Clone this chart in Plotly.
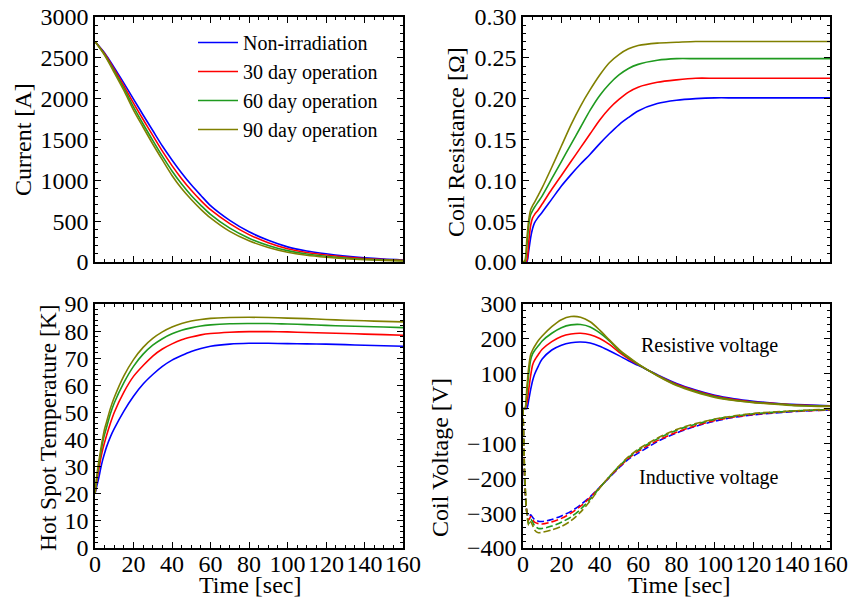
import plotly.graph_objects as go

# ---------------- data ----------------
time_current = [0, 5, 10, 15, 20, 25, 30, 35, 40, 45, 50, 55, 60,
                70, 80, 90, 100, 110, 120, 130, 140, 150, 160]

current_non = [2700, 2560, 2380, 2190, 1995, 1800, 1610, 1420, 1250, 1090, 945, 815, 690,
               510, 370, 265, 185, 135, 100, 72, 50, 35, 25]
current_30 = [2700, 2549, 2358, 2157, 1945, 1745, 1550, 1357, 1180, 1020, 878, 752, 640,
              470, 335, 236, 162, 117, 86, 61, 43, 31, 22]
current_60 = [2700, 2539, 2337, 2125, 1900, 1690, 1490, 1296, 1115, 955, 815, 694, 583,
              414, 292, 203, 139, 97, 70, 49, 34, 24, 17]
current_90 = [2700, 2530, 2320, 2100, 1860, 1650, 1445, 1250, 1060, 900, 765, 645, 540,
              375, 260, 178, 120, 82, 58, 40, 28, 20, 14]

time_fine = [0, 1, 2, 3, 4, 5, 6, 8, 10, 15, 20, 25, 30, 35, 40, 45, 50, 55, 60,
             70, 80, 90, 100, 110, 120, 130, 140, 150, 160]

resist_non = [0, 0, 0, 0.014, 0.030, 0.041, 0.048, 0.055, 0.061, 0.077, 0.093, 0.107, 0.120,
              0.132, 0.145, 0.157, 0.168, 0.177, 0.185, 0.194, 0.198, 0.200, 0.201, 0.201,
              0.201, 0.201, 0.201, 0.201, 0.201]
resist_30 = [0, 0, 0.002, 0.025, 0.045, 0.054, 0.058, 0.064, 0.071, 0.089, 0.106, 0.123, 0.140,
             0.157, 0.174, 0.188, 0.199, 0.208, 0.214, 0.220, 0.223, 0.225, 0.225, 0.225,
             0.225, 0.225, 0.225, 0.225, 0.225]
resist_60 = [0, 0, 0.020, 0.045, 0.058, 0.063, 0.067, 0.074, 0.081, 0.102, 0.123, 0.144, 0.165,
             0.186, 0.204, 0.218, 0.229, 0.237, 0.242, 0.247, 0.249, 0.249, 0.249, 0.249,
             0.249, 0.249, 0.249, 0.249, 0.249]
resist_90 = [0, 0.002, 0.028, 0.052, 0.064, 0.069, 0.073, 0.082, 0.091, 0.116, 0.142, 0.168, 0.191,
             0.211, 0.229, 0.244, 0.254, 0.261, 0.265, 0.268, 0.269, 0.270, 0.270, 0.270,
             0.270, 0.270, 0.270, 0.270, 0.270]

temp_non = [20, 23, 26, 29.5, 32.5, 35, 37.3, 41, 44, 50.5, 56, 60.5, 64, 67, 69.3, 71, 72.5,
            73.6, 74.4, 75.2, 75.5, 75.5, 75.4, 75.3, 75.2, 75.0, 74.8, 74.6, 74.4]
temp_30 = [20, 25, 29, 33, 36.3, 39, 41.5, 46, 50, 57.5, 63.3, 67.3, 70.8, 73.4, 75.3, 76.8, 77.8,
           78.6, 79.1, 79.6, 79.8, 79.8, 79.7, 79.5, 79.3, 79.1, 78.9, 78.7, 78.5]
temp_60 = [20, 26, 31, 35, 39, 42, 44.5, 49.5, 53.5, 61, 67, 71.5, 74.8, 77.2, 79, 80.3, 81.2,
           81.9, 82.3, 82.7, 82.8, 82.8, 82.6, 82.4, 82.1, 81.9, 81.7, 81.5, 81.3]
temp_90 = [20, 27, 32, 36.5, 40.5, 44, 46.5, 51.5, 55.5, 63.5, 69.5, 74, 77.3, 79.7, 81.5, 82.8,
           83.7, 84.3, 84.7, 85.0, 85.1, 85.0, 84.8, 84.6, 84.3, 84.0, 83.8, 83.6, 83.4]

vres_non = [0, 0, 0, 25, 55, 80, 98, 122, 142, 168, 182, 189, 191, 188, 179, 166, 152, 137, 124,
            97, 72, 53, 38, 28, 21, 16, 12, 10, 8]
vres_30 = [0, 0, 15, 55, 95, 125, 138, 155, 170, 192, 207, 214, 216, 212, 201, 184, 162, 143, 126,
           96, 70, 51, 36, 26, 19, 15, 11, 9, 7]
vres_60 = [0, 0, 45, 100, 140, 157, 166, 180, 194, 216, 232, 240, 241, 234, 217, 194, 167, 146, 127,
           95, 68, 49, 34, 24, 18, 14, 10, 8, 6.5]
vres_90 = [0, 0, 60, 120, 155, 168, 178, 195, 208, 235, 255, 264, 262, 249, 225, 197, 170, 148, 128,
           94, 66, 47, 32, 23, 17, 13, 9, 7, 6]

vind_non = [0, -230, -295, -310, -305, -312, -318, -323, -324, -318, -308, -295, -276, -253, -226,
            -198, -170, -145, -128, -95, -70, -51, -36, -25, -18, -13, -9, -6, -4]
vind_30 = [0, -220, -298, -320, -310, -318, -326, -330, -331, -325, -315, -300, -280, -255, -226,
           -197, -168, -143, -123, -92, -68, -49, -34, -24, -17, -12, -8, -6, -4]
vind_60 = [0, -210, -300, -330, -318, -325, -336, -344, -344, -337, -326, -311, -289, -260, -227,
           -196, -166, -140, -119, -87, -62, -45, -31, -22, -15, -11, -7, -5, -3]
vind_90 = [0, -200, -300, -335, -325, -335, -348, -356, -355, -348, -338, -322, -297, -265, -228,
           -195, -165, -138, -117, -85, -60, -43, -30, -21, -14, -10, -7, -4, -2]

series_names = ["Non-irradiation", "30 day operation", "60 day operation", "90 day operation"]
series_colors = ["#0000ff", "#ff0000", "#1f9a1f", "#808000"]

FONT = "Liberation Serif"
W, H = 850, 606

# panel frames in pixels (left, right, top, bottom)
panels = {
    "1": (95, 403, 17, 262),
    "2": (523, 830, 17, 262),
    "3": (95, 403, 304, 548),
    "4": (523, 830, 304, 548),
}

fig = go.Figure()


def add_set(xs, ys_list, axis, dash=None, legend=False):
    for name, color, ys in zip(series_names, series_colors, ys_list):
        fig.add_trace(go.Scatter(
            x=xs, y=ys, mode="lines", name=name,
            line=dict(color=color, width=1.6, shape="spline", smoothing=0.8,
                      dash=dash if dash else "solid"),
            xaxis="x" + ("" if axis == "1" else axis),
            yaxis="y" + ("" if axis == "1" else axis),
            showlegend=legend, legendgroup=name,
        ))


add_set(time_current, [current_non, current_30, current_60, current_90], "1", legend=True)
add_set(time_fine, [resist_non, resist_30, resist_60, resist_90], "2")
add_set(time_fine, [temp_non, temp_30, temp_60, temp_90], "3")
add_set(time_fine, [vres_non, vres_30, vres_60, vres_90], "4")
add_set(time_fine, [vind_non, vind_30, vind_60, vind_90], "4", dash="7px,3px")

tick_font = dict(family=FONT, size=24, color="black")


def xaxis(key, labels):
    l, r, t, b = panels[key]
    return dict(
        domain=[l / W, r / W], range=[0, 160], tick0=0, dtick=20,
        anchor="y" + ("" if key == "1" else key),
        showticklabels=labels, tickfont=tick_font, ticklabelstandoff=-7,
        tickangle=0, automargin=False,
        ticks="inside", ticklen=6, tickwidth=1, tickcolor="black",
        minor=dict(ticks="inside", ticklen=3, dtick=5, tickcolor="black", tickwidth=1),
        showline=True, linecolor="black", linewidth=1.5, mirror="allticks",
        showgrid=False, zeroline=False,
    )


def yaxis(key, rng, dtick, minor, fmt=None):
    l, r, t, b = panels[key]
    d = dict(
        domain=[1 - b / H, 1 - t / H], range=rng, tick0=rng[0], dtick=dtick,
        anchor="x" + ("" if key == "1" else key),
        tickfont=tick_font, automargin=False,
        ticks="inside", ticklen=6, tickwidth=1, tickcolor="black",
        minor=dict(ticks="inside", ticklen=3, dtick=minor, tickcolor="black", tickwidth=1),
        showline=True, linecolor="black", linewidth=1.5, mirror="allticks",
        showgrid=False, zeroline=False,
    )
    if fmt:
        d["tickformat"] = fmt
    return d


annotations = []


def title(text, x, y, angle=0, size=24):
    annotations.append(dict(
        text=text, x=x / W, y=1 - y / H, xref="paper", yref="paper",
        showarrow=False, textangle=angle, xanchor="center", yanchor="middle",
        font=dict(family=FONT, size=size, color="black"),
    ))


title("Current [A]", 23, 140, -90)
title("Coil Resistance [Ω]", 456, 142, -90)
title("Hot Spot Temperature [K]", 48, 428, -90, 23.5)
title("Coil Voltage [V]", 440, 458, -90)
title("Time [sec]", 250, 585)
title("Time [sec]", 679, 585)

for text, tx, vy in [("Resistive voltage", 97, 182), ("Inductive voltage", 97, -199)]:
    annotations.append(dict(
        text=text, x=tx, y=vy, xref="x4", yref="y4", showarrow=False,
        xanchor="center", yanchor="middle",
        font=dict(family=FONT, size=20, color="black"),
    ))

fig.update_layout(
    width=W, height=H,
    margin=dict(l=0, r=0, t=0, b=0, autoexpand=False),
    paper_bgcolor="white", plot_bgcolor="white",
    font=dict(family=FONT, color="black"),
    xaxis=xaxis("1", False), yaxis=yaxis("1", [0, 3000], 500, 100),
    xaxis2=xaxis("2", False), yaxis2=yaxis("2", [0, 0.3], 0.05, 0.01, ".2f"),
    xaxis3=xaxis("3", True), yaxis3=yaxis("3", [0, 90], 10, 2),
    xaxis4=xaxis("4", True), yaxis4=yaxis("4", [-400, 300], 100, 20),
    annotations=annotations,
    legend=dict(
        x=193 / W, y=1 - 23 / H, xanchor="left", yanchor="top",
        bgcolor="rgba(0,0,0,0)", borderwidth=0,
        font=dict(family=FONT, size=20, color="black"),
        itemwidth=40, traceorder="grouped", tracegroupgap=0,
    ),
)

fig.write_html("out.html")
